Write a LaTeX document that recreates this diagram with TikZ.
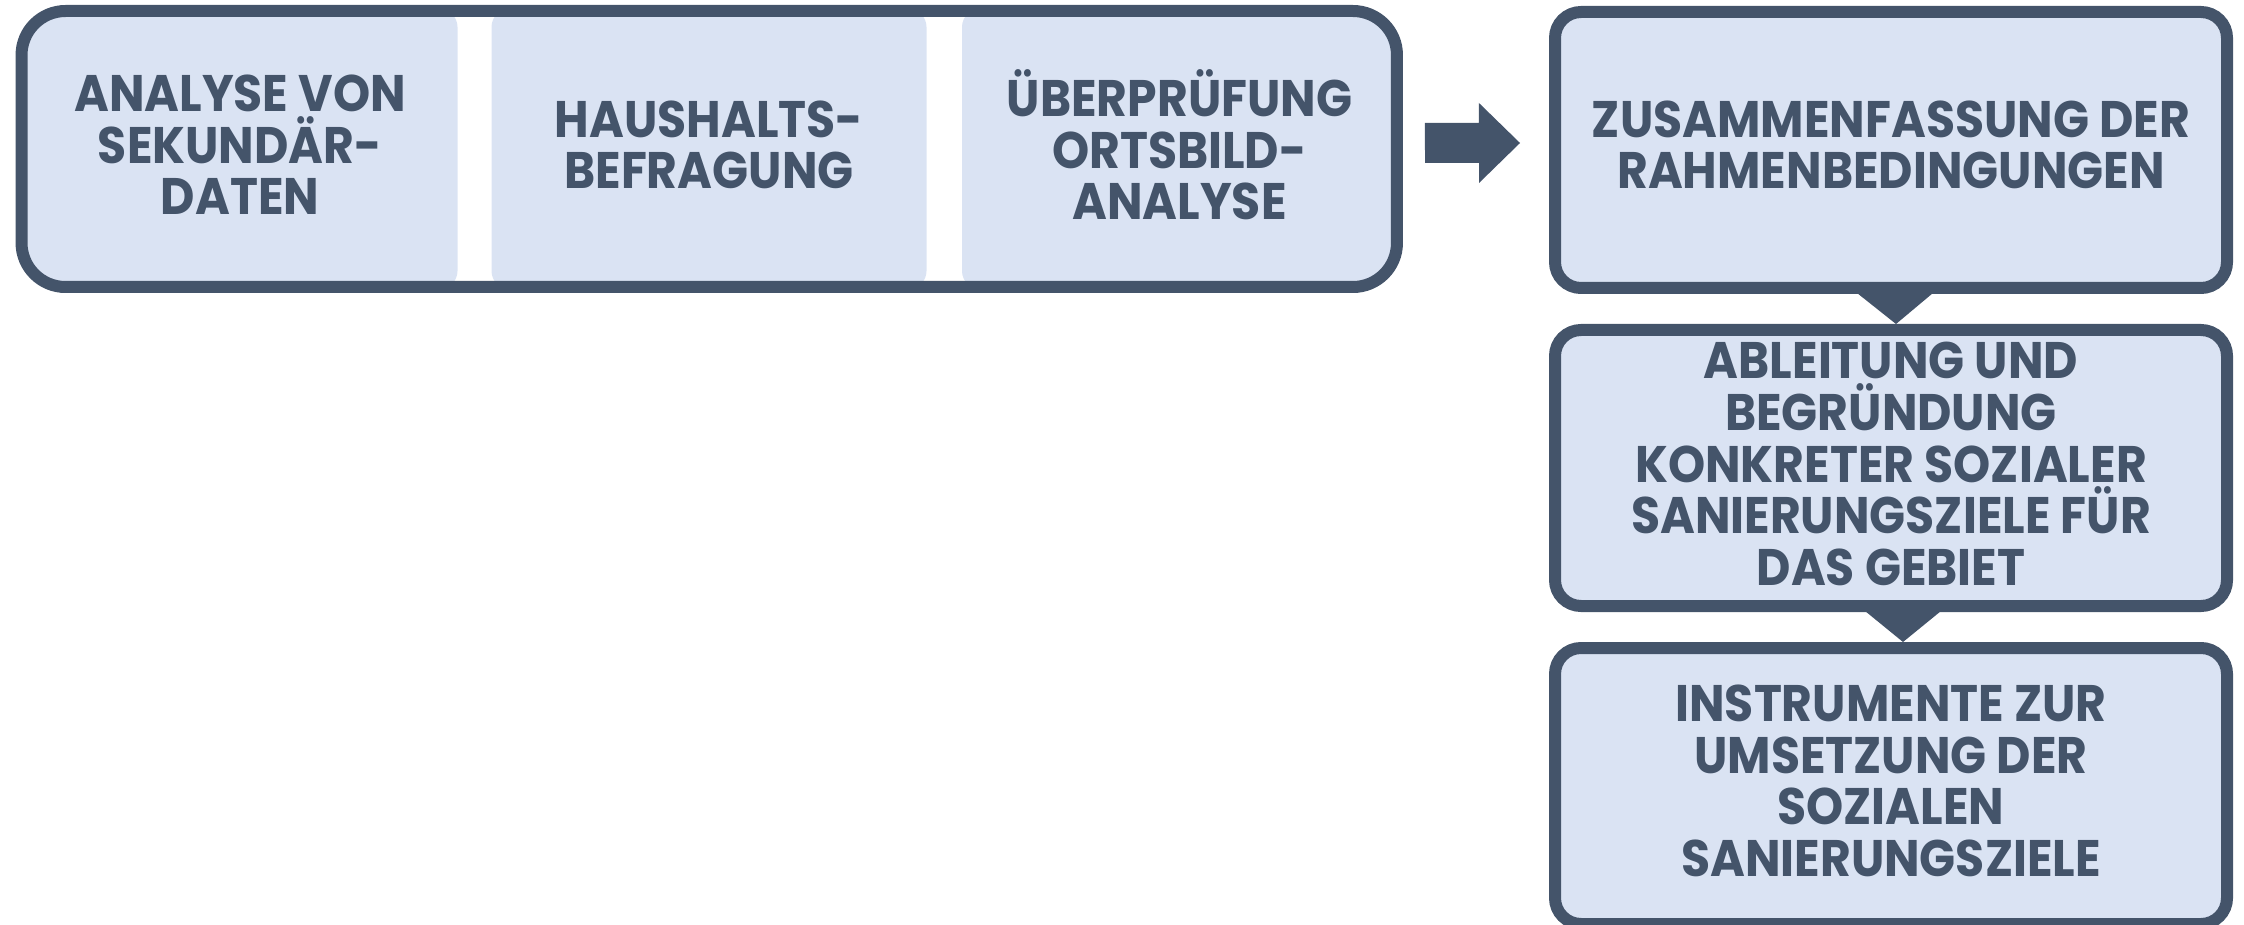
\documentclass[tikz,border=0pt]{standalone}
\usepackage{fontspec}
\newfontfamily\boxfont{Poppins}[FakeStretch=0.92]
\usetikzlibrary{calc}
\definecolor{slate}{RGB}{68,84,106}
\definecolor{paleblue}{RGB}{218,227,243}
\tikzset{every picture/.style={line width=0.75pt}}
\tikzset{
  boxtext/.style={align=center, text=slate, inner sep=0pt, font=\boxfont\bfseries\fontsize{25.7}{25.8}\selectfont},
  block/.style={fill=paleblue, rounded corners=9pt, minimum width=217.5pt, minimum height=140pt, inner sep=0pt, outer sep=0pt},
  frame/.style={draw=slate, line width=6pt, rounded corners=22pt, minimum width=687.7pt, minimum height=138pt, inner sep=0pt},
  stage/.style={draw=slate, line width=6pt, fill=paleblue, rounded corners=13pt, minimum width=336pt, minimum height=138pt, inner sep=0pt},
  pointer/.style={fill=slate, draw=none}
}

\begin{document}
\begin{tikzpicture}[x=0.5pt,y=0.5pt,yscale=-1,xscale=1]
\useasboundingbox (0,0) rectangle (2244,925);

%Rounded Rect: the three survey blocks, cut to the frame
\begin{scope}
\clip [rounded corners=22pt] (21.5,11) rectangle (1397,287);
\node [block] (sek) at (240,149) {};
\node [block] (hh) at (709,149) {};
\node [block] (obild) at (1179.5,149) {};
\end{scope}
%Rounded Rect
\node [frame] (grp) at (709.25,149) {};

%Rounded Rect
\node [stage] (rahmen) at (1891,150) {};
%Rounded Rect
\node [stage] (ziele) at (1891,468) {};
%Rounded Rect
\node [stage] (instr) at (1891,786) {};

%Block Arrow
\fill [pointer] ($(grp.east)+(22,-26)$) -- ++(54,0) -- ++(0,-20) -- ($(rahmen.west)+(-29,-7)$) -- ++(-41,40) -- ++(0,-20) -- ++(-54,0) -- cycle;

%Shape: Triangle
\fill [pointer] ($(rahmen.south)+(-34,-1)$) -- ($(rahmen.south)+(42,-1)$) -- ($(ziele.north)+(5,0)$) -- cycle;
%Shape: Triangle
\fill [pointer] ($(ziele.south)+(-26,-1)$) -- ($(ziele.south)+(50,-1)$) -- ($(instr.north)+(12,0)$) -- cycle;

% Text Node
\node [boxtext] (sek-t) at ($(sek)+(0,-4)$) {ANALYSE VON\\SEKUNDÄR-\\DATEN};
% Text Node
\node [boxtext] (hh-t) at ($(hh)+(0,-4)$) {HAUSHALTS-\\BEFRAGUNG};
% Text Node
\node [boxtext] (obild-t) at ($(obild)+(0,-4)$) {ÜBERPRÜFUNG\\ORTSBILD-\\ANALYSE};
% Text Node
\node [boxtext] (rahmen-t) at ($(rahmen)+(0,-5)$) {ZUSAMMENFASSUNG DER\\RAHMENBEDINGUNGEN};
% Text Node
\node [boxtext] (ziele-t) at ($(ziele)+(0,-4)$) {ABLEITUNG UND\\BEGRÜNDUNG\\KONKRETER SOZIALER\\SANIERUNGSZIELE FÜR\\DAS GEBIET};
% Text Node
\node [boxtext] (instr-t) at ($(instr)+(0,-5)$) {INSTRUMENTE ZUR\\UMSETZUNG DER\\SOZIALEN\\SANIERUNGSZIELE};

\end{tikzpicture}
\end{document}
